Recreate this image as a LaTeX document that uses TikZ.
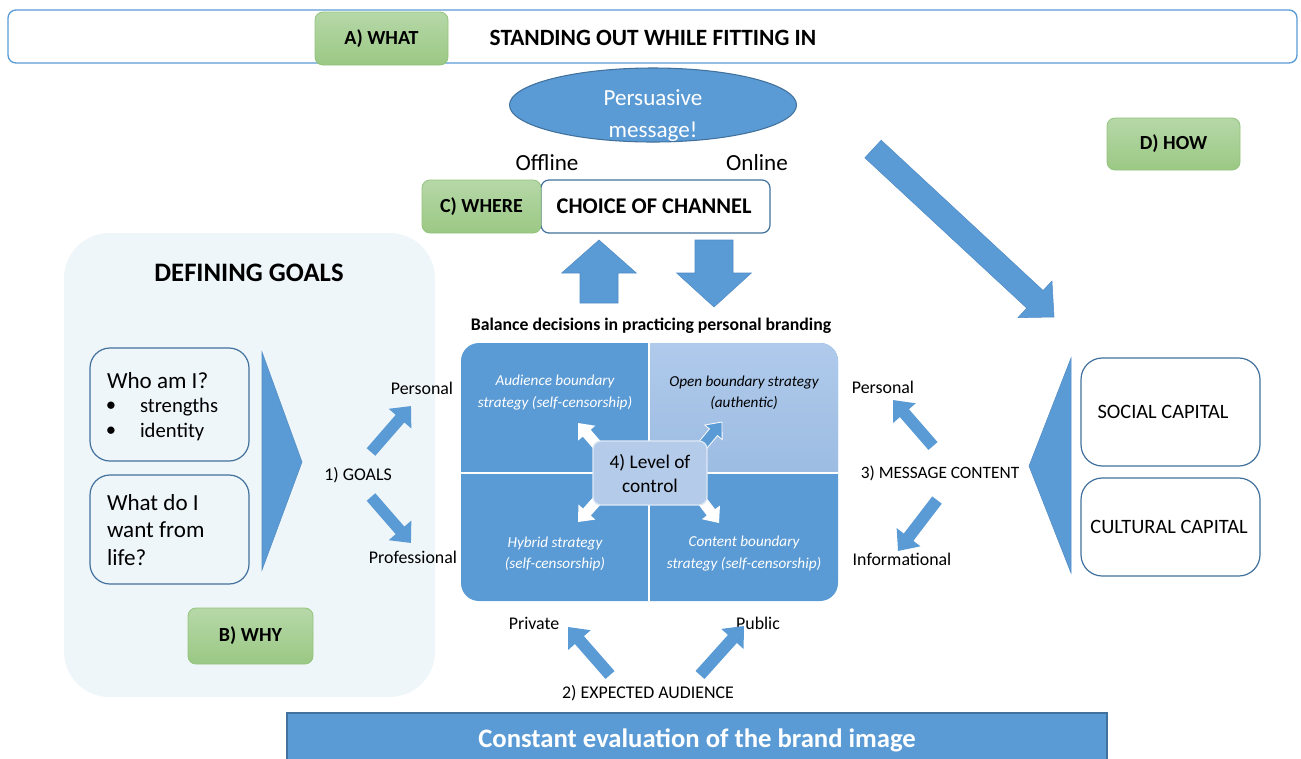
\documentclass[tikz,border=0pt]{standalone}
\usepackage{fontspec}
\setmainfont{Carlito}
\usetikzlibrary{calc,shapes.geometric}
\definecolor{mblue}{HTML}{5B9BD5}
\definecolor{dblue}{HTML}{41719C}
\definecolor{eblue}{HTML}{4F8BC4}
\definecolor{lbluet}{HTML}{AFCAEB}
\definecolor{lblueb}{HTML}{9DBCE2}
\definecolor{cblue}{HTML}{B4CBE9}
\definecolor{panelc}{HTML}{EFF6FA}
\definecolor{gtop}{HTML}{B6D8A8}
\definecolor{gbot}{HTML}{9BC884}
\definecolor{gline}{HTML}{93C47D}
\newcommand\fsz[2]{\fontsize{#1pt}{#2pt}\selectfont}
% tail, tip, shaft half, head half, head length (pt numbers), style
\newcommand\blockarr[6]{%
  \path[#6] let \p1=(#1), \p2=(#2), \n1={atan2(\y2-\y1,\x2-\x1)}, \n2={veclen(\x2-\x1,\y2-\y1)} in
  [shift={(\p1)}, rotate=\n1]
  (0pt,{#3*1pt}) -- ({\n2*1pt-#5*1pt},{#3*1pt}) -- ({\n2*1pt-#5*1pt},{#4*1pt}) -- ({\n2*1pt},0pt)
  -- ({\n2*1pt-#5*1pt},{-#4*1pt}) -- ({\n2*1pt-#5*1pt},{-#3*1pt}) -- (0pt,{-#3*1pt}) -- cycle;}
\begin{document}
\begin{tikzpicture}[x=0.75pt,y=-0.75pt,
  every node/.style={inner sep=0pt,outer sep=0pt},
  sz/.style 2 args={minimum width={#1*0.75pt},minimum height={#2*0.75pt}},
  gbox/.style={rounded corners=6pt,top color=gtop,bottom color=gbot,draw=gline,line width=0.6pt,font=\bfseries\fsz{15}{18}},
  wbox/.style={rounded corners=15pt,draw=dblue,line width=0.9pt},
  lbl/.style={font=\fsz{13.4}{16}},
  qtxt/.style={align=center,font=\itshape\fsz{11.4}{15.8}},
  barrow/.style={fill=mblue,draw=eblue,line width=0.4pt},
  sarrow/.style={fill=mblue},
  warrow/.style={fill=white}]
\useasboundingbox (0,0) rectangle (1301,758);
% ---------- top bar ----------
\node[sz={1289}{53},rounded corners=6pt,fill=white,draw=mblue,line width=1pt] (top) at (652.5,36.5) {};
\node[gbox,sz={133}{53}] (what) at (381.5,38.5) {A) WHAT};
\node[font=\bfseries\fsz{17.5}{21}] (stand) at (653,38) {STANDING OUT WHILE FITTING IN};
% ---------- persuasive message ----------
\node[ellipse,sz={287}{74},fill=mblue,draw=dblue,line width=0.8pt] (msg) at (653,105) {};
\node[align=center,text=white,font=\fsz{17.3}{24}] (msgtxt) at (653,115.5) {Persuasive\\message!};
\node[font=\fsz{17.3}{21}] (offline) at (547,163) {Offline};
\node[font=\fsz{17.3}{21}] (online) at (757,163) {Online};
% ---------- channel ----------
\node[sz={229}{53},rounded corners=6pt,fill=white,draw=dblue,line width=0.9pt,font=\bfseries\fsz{16.8}{20}] (channel) at (655.5,206.5) {\hspace*{-2pt}CHOICE OF CHANNEL};
\node[gbox,sz={119}{53}] (where) at (481.5,206.5) {C) WHERE};
\node[gbox,sz={133}{52}] (how) at (1173.5,144) {D) HOW};
% up/down arrows
\coordinate (upT) at (599,303); \coordinate (upH) at (599,240);
\coordinate (dnT) at (714,240); \coordinate (dnH) at (714,307);
\blockarr{upT}{upH}{14.25}{28}{24.75}{barrow}
\blockarr{dnT}{dnH}{14.25}{28}{25.5}{barrow}
% big diagonal arrow
\coordinate (bigT) at (873,149); \coordinate (bigH) at (1054,317);
\blockarr{bigT}{bigH}{9}{18.75}{19.5}{barrow}
% ---------- defining goals panel ----------
\node[sz={371}{464},rounded corners=34pt,fill=panelc] (panel) at (249.5,465) {};
\node[font=\bfseries\fsz{20}{24}] (defgoals) at (249,273) {DEFINING GOALS};
\node[wbox,sz={159}{113},fill=panelc] (whobox) at (169.5,404.5) {};
\node[wbox,sz={159}{109},fill=panelc] (wantbox) at (169.5,529.5) {};
\node[anchor=west,font=\fsz{17.3}{21}] (who) at (107,381) {Who am I?};
\node[font=\fsz{15.5}{18}] (b1) at (111,407) {\textbullet};
\node[font=\fsz{15.5}{18}] (b2) at (111,432) {\textbullet};
\node[anchor=west,font=\fsz{15.5}{18}] (str) at (140,407) {strengths};
\node[anchor=west,font=\fsz{15.5}{18}] (ide) at (140,432) {identity};
\node[anchor=west,align=left,font=\fsz{17.3}{20.6}] (want) at (107,530) {What do I\\want from\\life?};
\fill[mblue,draw=eblue,line width=0.4pt] (262,352) -- (302,462) -- (262,570) -- cycle;
\node[lbl] (goals) at (358,475) {1) GOALS};
\node[lbl] (gpers) at (422,388) {Personal};
\node[lbl] (gprof) at (413,557) {Professional};
\coordinate (g1T) at (371,452); \coordinate (g1H) at (411,406);
\coordinate (g2T) at (371,497); \coordinate (g2H) at (411,543);
\blockarr{g1T}{g1H}{4.3}{11.25}{12.5}{sarrow}
\blockarr{g2T}{g2H}{4.3}{11.25}{12.5}{sarrow}
\node[gbox,sz={125}{56}] (why) at (250.5,636) {B) WHY};
% ---------- balance quadrants ----------
\node[font=\bfseries\fsz{13.3}{16}] (balance) at (651,326) {Balance decisions in practicing personal branding};
\node[sz={377}{258},rounded corners=13.5pt,fill=mblue] (quad) at (649.5,472) {};
\begin{scope}
  \clip[rounded corners=13.5pt] (461,343) rectangle (838,601);
  \shade[top color=lbluet,bottom color=lblueb] (649,343) rectangle (838,473);
\end{scope}
\draw[white,line width=1.1pt] (649,343) -- (649,601);
\draw[white,line width=1.1pt] (461,473) -- (838,473);
\node[qtxt,text=white] (qtl) at (555,392.5) {Audience boundary\\strategy (self-censorship)};
\node[qtxt,text=black] (qtr) at (744,392.5) {Open boundary strategy\\(authentic)};
\node[qtxt,text=white] (qbl) at (555,553.5) {Hybrid strategy\\(self-censorship)};
\node[qtxt,text=white] (qbr) at (744,553.5) {Content boundary\\strategy (self-censorship)};
\coordinate (c1T) at (603,452); \coordinate (c1H) at (578,423);
\coordinate (c2T) at (697,452); \coordinate (c2H) at (722,422);
\coordinate (c3T) at (603,494); \coordinate (c3H) at (578,522);
\coordinate (c4T) at (697,494); \coordinate (c4H) at (719,523);
\blockarr{c1T}{c1H}{3.9}{8.5}{10}{warrow}
\blockarr{c2T}{c2H}{3.9}{8.5}{10}{fill=mblue,draw=white,line width=0.6pt}
\blockarr{c3T}{c3H}{3.9}{8.5}{10}{warrow}
\blockarr{c4T}{c4H}{3.9}{8.5}{10}{warrow}
\node[sz={114}{64},rounded corners=6pt,fill=cblue,draw=white!55!cblue,line width=1pt,align=center,font=\fsz{14.5}{18}] (ctrl) at (650,473) {4) Level of\\control};
% ---------- expected audience ----------
\node[lbl] (private) at (534,623) {Private};
\node[lbl] (public) at (758,623) {Public};
\node[lbl] (expected) at (648,693) {2) EXPECTED AUDIENCE};
\coordinate (a1T) at (610,675); \coordinate (a1H) at (568,627);
\coordinate (a2T) at (700,675); \coordinate (a2H) at (744,626);
\blockarr{a1T}{a1H}{4.5}{11.25}{13}{sarrow}
\blockarr{a2T}{a2H}{4.5}{11.25}{13}{sarrow}
% ---------- message content ----------
\node[lbl] (mpers) at (883,387) {Personal};
\node[font=\fsz{13}{16}] (mcont) at (940,473) {3) MESSAGE CONTENT};
\node[lbl] (minfo) at (902,559) {Informational};
\coordinate (m1T) at (933,446); \coordinate (m1H) at (893,400);
\coordinate (m2T) at (937,500); \coordinate (m2H) at (898,551);
\blockarr{m1T}{m1H}{4.5}{11.25}{13}{sarrow}
\blockarr{m2T}{m2H}{4.5}{11.25}{13}{sarrow}
\fill[mblue,draw=eblue,line width=0.4pt] (1071,358) -- (1029,466) -- (1071,573) -- cycle;
\node[wbox,rounded corners=16pt,sz={179}{108},fill=white] (social) at (1170.5,412) {};
\node[font=\fsz{15.3}{18}] (socialtxt) at (1163,412) {SOCIAL CAPITAL};
\node[wbox,rounded corners=16pt,sz={179}{98},fill=white] (cultural) at (1170.5,527) {};
\node[font=\fsz{15.3}{18}] (culturaltxt) at (1169,527) {CULTURAL CAPITAL};
% ---------- bottom bar ----------
\node[sz={820}{56},fill=mblue,draw=dblue,line width=0.8pt] (evalbar) at (697,741) {};
\node[text=white,font=\bfseries\fsz{20}{24}] (evaltxt) at (697,740) {Constant evaluation of the brand image};
\end{tikzpicture}
\end{document}
